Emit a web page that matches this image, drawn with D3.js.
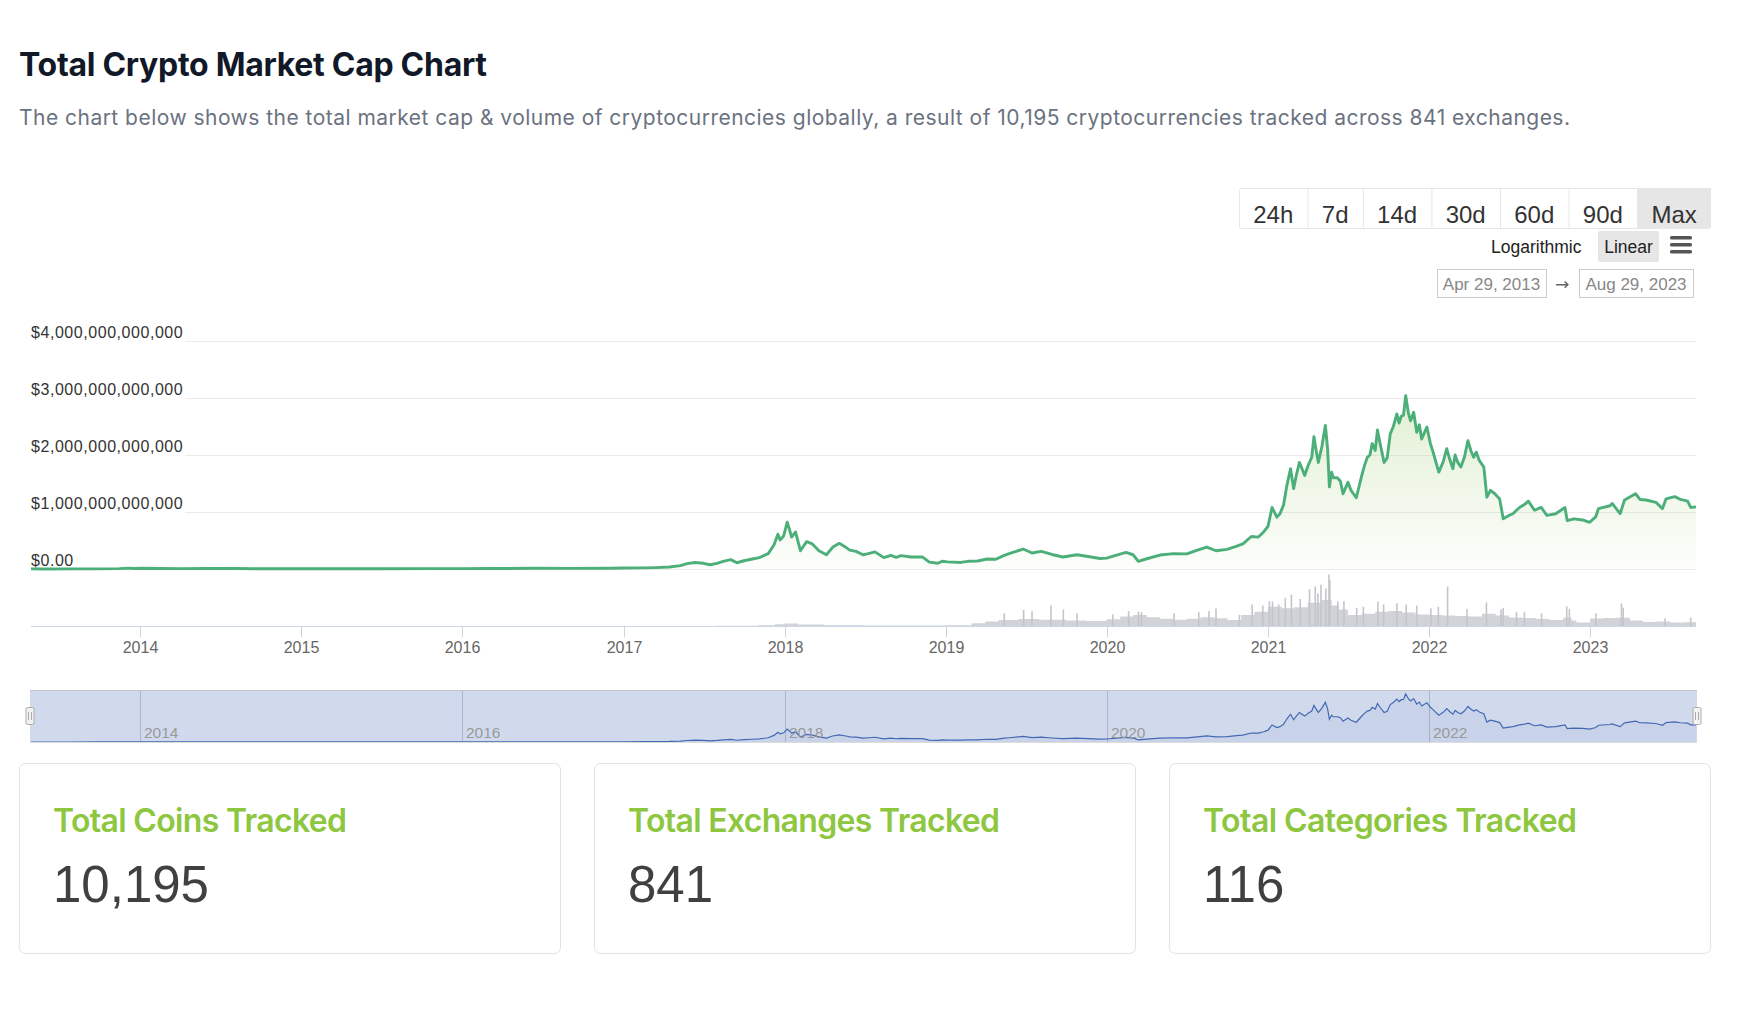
<!DOCTYPE html>
<html><head><meta charset="utf-8">
<script src="https://cdn.jsdelivr.net/npm/d3@7"></script>
<style>
html,body{margin:0;padding:0;background:#fff;}
svg{display:block;}
</style></head><body>
<svg id="c" width="1754" height="1018"></svg>
<script>
// ---------------- DATA ----------------
const pageTitle = "Total Crypto Market Cap Chart";
const pageSubtitle = "The chart below shows the total market cap & volume of cryptocurrencies globally, a result of 10,195 cryptocurrencies tracked across 841 exchanges.";
const rangeButtons = ["24h","7d","14d","30d","60d","90d","Max"];
const scaleButtons = ["Logarithmic","Linear"];
const dateRange = ["Apr 29, 2013","Aug 29, 2023"];
const yTicks = [0,1000,2000,3000,4000];            // $ billions
const xTickYears = [2014,2015,2016,2017,2018,2019,2020,2021,2022,2023];
const navTickYears = [2014,2016,2018,2020,2022];
const statTitles = ["Total Coins Tracked","Total Exchanges Tracked","Total Categories Tracked"];
const statValues = ["10,195","841","116"];

// total market cap, $ billions
const capDates = ["2013-04-29","2013-06-01","2013-08-01","2013-10-01","2013-11-15","2013-12-04","2013-12-20","2014-01-05","2014-02-15","2014-04-01","2014-06-01","2014-08-01","2014-10-01","2014-12-01","2015-01-15","2015-04-01","2015-07-01","2015-11-05","2016-01-01","2016-03-01","2016-06-15","2016-09-01","2016-12-01","2017-01-01","2017-02-15","2017-03-15","2017-04-15","2017-05-10","2017-05-25","2017-06-12","2017-07-01","2017-07-16","2017-08-01","2017-08-15","2017-09-01","2017-09-15","2017-10-01","2017-10-20","2017-11-05","2017-11-25","2017-12-08","2017-12-17","2017-12-22","2017-12-30","2018-01-07","2018-01-12","2018-01-17","2018-01-26","2018-02-06","2018-02-20","2018-03-05","2018-03-20","2018-04-06","2018-04-20","2018-05-05","2018-05-20","2018-05-29","2018-06-12","2018-06-28","2018-07-10","2018-07-25","2018-08-14","2018-08-30","2018-09-11","2018-09-22","2018-10-15","2018-11-10","2018-11-20","2018-11-25","2018-12-15","2018-12-24","2019-01-05","2019-02-05","2019-02-20","2019-03-15","2019-04-05","2019-04-25","2019-05-14","2019-05-25","2019-06-26","2019-07-16","2019-08-06","2019-08-30","2019-09-24","2019-10-26","2019-11-20","2019-12-17","2020-01-01","2020-02-14","2020-03-01","2020-03-13","2020-04-01","2020-05-01","2020-06-01","2020-07-01","2020-07-25","2020-08-15","2020-09-05","2020-09-30","2020-10-22","2020-11-05","2020-11-24","2020-12-10","2020-12-22","2021-01-01","2021-01-10","2021-01-21","2021-01-28","2021-02-05","2021-02-12","2021-02-21","2021-02-28","2021-03-06","2021-03-13","2021-03-19","2021-03-25","2021-04-02","2021-04-10","2021-04-15","2021-04-20","2021-04-25","2021-05-03","2021-05-11","2021-05-16","2021-05-20","2021-05-25","2021-05-29","2021-06-07","2021-06-14","2021-06-20","2021-07-01","2021-07-08","2021-07-20","2021-08-01","2021-08-07","2021-08-14","2021-08-20","2021-08-25","2021-09-01","2021-09-06","2021-09-12","2021-09-21","2021-09-28","2021-10-05","2021-10-12","2021-10-20","2021-10-25","2021-10-30","2021-11-04","2021-11-09","2021-11-15","2021-11-20","2021-11-27","2021-12-04","2021-12-10","2021-12-15","2021-12-27","2022-01-04","2022-01-10","2022-01-23","2022-02-02","2022-02-10","2022-02-17","2022-02-24","2022-03-01","2022-03-07","2022-03-14","2022-03-22","2022-03-30","2022-04-06","2022-04-12","2022-04-18","2022-04-25","2022-05-05","2022-05-12","2022-05-20","2022-05-30","2022-06-10","2022-06-18","2022-07-01","2022-07-10","2022-07-25","2022-08-05","2022-08-14","2022-08-28","2022-09-12","2022-09-25","2022-10-15","2022-11-05","2022-11-10","2022-11-25","2022-12-15","2022-12-31","2023-01-14","2023-01-20","2023-02-15","2023-02-20","2023-03-10","2023-03-20","2023-04-14","2023-04-24","2023-05-08","2023-05-30","2023-06-14","2023-06-22","2023-07-12","2023-07-25","2023-08-10","2023-08-17","2023-08-29"];
const capValues = [1.6,1.3,1.4,2.0,6,15,9,12,9,7,9,7.5,5,5,3.5,3.8,4.5,6,7,8,12,11,13,17,20,25,35,60,95,115,100,75,100,135,165,110,145,175,200,270,420,610,510,580,820,700,560,650,320,480,440,320,250,380,450,380,330,310,250,270,300,200,240,205,235,210,210,150,120,100,135,125,115,135,140,175,170,240,270,350,280,310,255,210,250,220,185,190,290,250,135,180,245,270,265,330,385,320,345,400,440,570,560,650,750,1080,910,970,1120,1440,1760,1410,1640,1870,1760,1640,1820,1960,2320,2080,1870,2150,2520,2100,1440,1700,1600,1600,1540,1320,1520,1380,1250,1630,1800,1960,2000,2200,2080,2440,2200,1870,1950,2370,2500,2720,2560,2680,2700,3040,2740,2600,2750,2400,2530,2280,2490,2200,2050,1700,1880,2110,1920,1760,2000,1870,1790,1960,2250,2070,1960,2050,1900,1790,1260,1380,1320,1230,880,940,970,1080,1130,1190,1030,1080,940,970,1080,850,880,860,820,920,1060,1110,1150,970,1210,1320,1220,1210,1170,1060,1230,1270,1220,1190,1080,1090];

// 24h volume level, $ billions (each value holds until the next date)
const volDates = ["2013-04-29","2014-01-01","2015-01-01","2016-01-01","2017-01-01","2017-05-01","2017-08-01","2017-11-01","2017-12-10","2018-01-01","2018-02-01","2018-04-01","2018-07-01","2018-10-01","2019-01-01","2019-03-01","2019-04-01","2019-05-01","2019-06-15","2019-08-01","2019-10-01","2019-11-15","2020-01-01","2020-02-01","2020-03-01","2020-04-01","2020-05-01","2020-06-01","2020-07-01","2020-08-01","2020-09-01","2020-10-01","2020-11-01","2020-12-01","2021-01-01","2021-02-01","2021-03-01","2021-04-01","2021-05-01","2021-05-25","2021-06-10","2021-07-01","2021-08-01","2021-09-01","2021-10-01","2021-11-01","2021-12-01","2022-01-01","2022-02-01","2022-03-01","2022-04-01","2022-05-01","2022-06-01","2022-07-01","2022-08-01","2022-09-01","2022-10-01","2022-11-01","2022-11-20","2022-12-01","2023-01-01","2023-02-01","2023-03-01","2023-04-01","2023-05-01","2023-06-01","2023-07-01","2023-08-01"];
const volValues = [0.5,0.5,0.3,0.5,1,3,6,12,20,27,18,12,10,8,12,30,45,60,68,62,55,50,65,90,105,85,70,62,70,85,75,58,105,135,180,165,175,215,240,190,155,105,115,135,140,128,110,105,100,95,92,115,100,82,78,68,58,80,55,36,72,78,80,55,42,45,36,38];
// single-day volume spikes, $ billions
const spikeDates = ["2019-05-14","2019-06-27","2019-07-16","2019-08-28","2019-09-25","2019-10-26","2020-01-15","2020-02-20","2020-03-13","2020-03-20","2020-06-02","2020-07-28","2020-08-20","2020-09-05","2020-10-28","2020-11-26","2020-12-20","2021-01-04","2021-01-11","2021-01-25","2021-02-09","2021-02-23","2021-03-15","2021-04-05","2021-04-18","2021-04-24","2021-05-01","2021-05-12","2021-05-19","2021-05-21","2021-06-08","2021-06-22","2021-07-21","2021-08-05","2021-09-07","2021-09-20","2021-10-20","2021-11-10","2021-12-04","2022-01-05","2022-01-22","2022-02-12","2022-03-28","2022-05-11","2022-06-13","2022-06-18","2022-07-18","2022-08-05","2022-09-13","2022-11-09","2022-11-15","2023-01-14","2023-03-13","2023-03-17","2023-06-20","2023-08-17"];
const spikeValues = [120,150,140,190,155,120,110,140,136,130,120,130,140,164,105,200,190,230,227,200,260,290,250,340,364,300,380,345,473,420,230,230,170,180,227,200,210,200,190,165,180,364,160,218,155,170,130,130,120,182,160,120,209,170,75,80];

// ---------------- DRAW ----------------
const svg = d3.select("#c");
const parse = d3.timeParse("%Y-%m-%d");
const cap = capDates.map((d,i)=>({date:parse(d), v:capValues[i]}));
const vol = volDates.map((d,i)=>({date:parse(d), v:volValues[i]}));
const spikes = spikeDates.map((d,i)=>({date:parse(d), v:spikeValues[i]}));
const startDate = parse("2013-04-29"), endDate = parse("2023-08-29");

const x = d3.scaleTime().domain([startDate,endDate]).range([31,1696]);
const y = d3.scaleLinear().domain([0,4000]).range([569,341]);
const yv = d3.scaleLinear().domain([0,500]).range([626.5,571.5]);
const yn = d3.scaleLinear().domain([0,d3.max(capValues)]).range([742,694]);

const sans = "'Liberation Sans', Arial, Helvetica, sans-serif";
const inter = "Inter, 'Noto Sans', sans-serif";

// Title & subtitle
svg.append("text").attr("x",19).attr("y",76).attr("font-family",inter).attr("font-weight",700)
  .attr("font-size",32).attr("fill","#111827").attr("textLength",468).attr("lengthAdjust","spacing").text(pageTitle);
svg.append("text").attr("x",19).attr("y",125).attr("font-family",inter).attr("font-weight",400)
  .attr("font-size",21).attr("fill","#6b7280").attr("textLength",1551).attr("lengthAdjust","spacing").text(pageSubtitle);

// Range buttons
const bg = svg.append("g");
const bx0 = 1239, bx1 = 1711, by0 = 188, by1 = 228;
const tmp = bg.selectAll("text.tmp").data(rangeButtons).enter().append("text")
  .attr("font-family",sans).attr("font-size",24).text(d=>d);
const tw = []; tmp.each(function(){ tw.push(this.getComputedTextLength()); });
tmp.remove();
const pad = ((bx1-bx0) - d3.sum(tw))/rangeButtons.length;
let cx = bx0;
const bpos = tw.map(w=>{ const p={x:cx,w:w+pad}; cx+=w+pad; return p; });
bg.append("rect").attr("x",bpos[6].x).attr("y",by0).attr("width",bpos[6].w).attr("height",by1-by0).attr("fill","#e6e6e6");
bg.append("rect").attr("x",bx0+0.5).attr("y",by0+0.5).attr("width",bx1-bx0-1).attr("height",by1-by0)
  .attr("fill","none").attr("stroke","#e6e6e6").attr("rx",2);
bpos.slice(1).forEach(p=>bg.append("line").attr("x1",p.x+0.5).attr("x2",p.x+0.5).attr("y1",by0).attr("y2",by1).attr("stroke","#e6e6e6"));
bg.selectAll("text.b").data(rangeButtons).enter().append("text")
  .attr("x",(d,i)=>bpos[i].x+bpos[i].w/2).attr("y",223).attr("text-anchor","middle")
  .attr("font-family",sans).attr("font-size",24).attr("fill","#333").text(d=>d);

// Log / Linear toggle and menu icon
svg.append("rect").attr("x",1598).attr("y",231).attr("width",61).attr("height",31).attr("fill","#e6e6e6").attr("rx",2);
svg.append("text").attr("x",1491).attr("y",253).attr("font-family",sans).attr("font-size",17.5).attr("fill","#222").text(scaleButtons[0]);
svg.append("text").attr("x",1628.5).attr("y",253).attr("text-anchor","middle").attr("font-family",sans).attr("font-size",17.5).attr("fill","#222").text(scaleButtons[1]);
[236,243,250].forEach(yy=>svg.append("rect").attr("x",1670).attr("y",yy).attr("width",22).attr("height",3.6).attr("rx",1.5).attr("fill","#555"));

// Date range inputs
[[1437,1546],[1579,1693]].forEach((b,i)=>{
  svg.append("rect").attr("x",b[0]+0.5).attr("y",269.5).attr("width",b[1]-b[0]).attr("height",28).attr("fill","#fff").attr("stroke","#ccc");
  svg.append("text").attr("x",(b[0]+b[1])/2).attr("y",290).attr("text-anchor","middle").attr("font-family",sans).attr("font-size",17).attr("fill","#888").text(dateRange[i]);
});
svg.append("text").attr("x",1562).attr("y",290).attr("text-anchor","middle").attr("font-family","'DejaVu Sans', sans-serif").attr("font-size",17).attr("fill","#666").text("→");

// Y gridlines and labels
const yg = svg.append("g");
const yFmt = d3.format(",.0f");
yTicks.forEach(t=>{
  const lab = t===0 ? "$0.00" : "$"+yFmt(t*1e9);
  const tx = yg.append("text").attr("x",31).attr("y",y(t)-3).attr("font-family",sans).attr("font-size",16)
     .attr("letter-spacing",0.55).attr("fill","#333").text(lab);
  const w = tx.node().getComputedTextLength();
  yg.insert("line","text").attr("x1",31+w+2).attr("x2",1696).attr("y1",y(t)+0.5).attr("y2",y(t)+0.5).attr("stroke","#ebebeb");
});

// Volume
const vg = svg.append("g");
vg.append("path").datum(vol.concat([{date:endDate, v:volValues[volValues.length-1]}]))
  .attr("fill","#d2d3d8")
  .attr("d",d3.area().curve(d3.curveStepAfter).x(d=>x(d.date)).y0(yv(0)).y1(d=>yv(d.v)));
vg.selectAll("rect.s").data(spikes).enter().append("rect")
  .attr("x",d=>x(d.date)-0.8).attr("width",1.6)
  .attr("y",d=>yv(d.v)).attr("height",d=>yv(0)-yv(d.v)).attr("fill","#c4c5cb");

// Main area & line
const defs = svg.append("defs");
const gr = defs.append("linearGradient").attr("id","ga").attr("gradientUnits","userSpaceOnUse")
  .attr("x1",0).attr("x2",0).attr("y1",y(3100)).attr("y2",y(0));
gr.append("stop").attr("offset",0).attr("stop-color","#8cc152").attr("stop-opacity",0.26);
gr.append("stop").attr("offset",1).attr("stop-color","#8cc152").attr("stop-opacity",0.02);
svg.append("path").datum(cap).attr("fill","url(#ga)")
  .attr("d",d3.area().x(d=>x(d.date)).y0(y(0)).y1(d=>y(d.v)));
svg.append("path").datum(cap).attr("fill","none").attr("stroke","#4caf7a").attr("stroke-width",2.9)
  .attr("stroke-linejoin","round").attr("d",d3.line().x(d=>x(d.date)).y(d=>y(d.v)));

// X axis
const xa = svg.append("g");
xa.append("line").attr("x1",31).attr("x2",1696).attr("y1",626.5).attr("y2",626.5).attr("stroke","#ccd6eb");
xTickYears.forEach(yr=>{
  const px = Math.round(x(new Date(yr,0,1)))+0.5;
  xa.append("line").attr("x1",px).attr("x2",px).attr("y1",626.5).attr("y2",637).attr("stroke","#ccd6eb");
  xa.append("text").attr("x",px).attr("y",652.5).attr("text-anchor","middle").attr("font-family",sans)
    .attr("font-size",16).attr("fill","#666").text(yr);
});

// Navigator
const ng = svg.append("g");
const nx0 = 30, nx1 = 1697, ny0 = 690, ny1 = 743;
navTickYears.forEach(yr=>{
  const px = Math.round(x(new Date(yr,0,1)))+0.5;
  ng.append("line").attr("x1",px).attr("x2",px).attr("y1",ny0).attr("y2",ny1).attr("stroke","#c9cbd3");
});
ng.append("path").datum(cap).attr("fill","rgba(51,92,173,0.06)")
  .attr("d",d3.area().x(d=>x(d.date)).y0(ny1).y1(d=>yn(d.v)));
ng.append("path").datum(cap).attr("fill","none").attr("stroke","#335cad").attr("stroke-width",1.2)
  .attr("d",d3.line().x(d=>x(d.date)).y(d=>yn(d.v)));
ng.append("rect").attr("x",nx0).attr("y",ny0).attr("width",nx1-nx0).attr("height",ny1-ny0).attr("fill","rgba(102,133,194,0.3)");
ng.append("line").attr("x1",nx0).attr("x2",nx1).attr("y1",ny0+0.5).attr("y2",ny0+0.5).attr("stroke","#c4c4c4");
ng.append("line").attr("x1",nx0).attr("x2",nx1).attr("y1",ny1-0.5).attr("y2",ny1-0.5).attr("stroke","#dcdcdc");
navTickYears.forEach(yr=>{
  const px = Math.round(x(new Date(yr,0,1)));
  ng.append("text").attr("x",px+4).attr("y",738).attr("font-family",sans).attr("font-size",15.5)
    .attr("fill","#999").text(yr);
});
[nx0, nx1].forEach(hx=>{
  ng.append("rect").attr("x",hx-4).attr("y",707.5).attr("width",8).attr("height",17).attr("rx",1.5)
    .attr("fill","#f2f2f2").attr("stroke","#aaa");
  [-1.5,1.5].forEach(o=>ng.append("line").attr("x1",hx+o).attr("x2",hx+o).attr("y1",712).attr("y2",720).attr("stroke","#aaa"));
});

// Stat cards
const cards = [19,594,1169];
const titleLens = [294,372,374];
cards.forEach((cx0,i)=>{
  svg.append("rect").attr("x",cx0+0.5).attr("y",763.5).attr("width",541).attr("height",190).attr("rx",6)
    .attr("fill","#fff").attr("stroke","#e2e2e2");
  svg.append("text").attr("x",cx0+34).attr("y",831.5).attr("font-family",inter).attr("font-weight",600)
    .attr("font-size",32).attr("fill","#8dc63f").attr("textLength",titleLens[i]).attr("lengthAdjust","spacing").text(statTitles[i]);
  svg.append("text").attr("x",cx0+34).attr("y",901.5).attr("font-family",sans)
    .attr("font-size",51).attr("fill","#404040").text(statValues[i]);
});
</script>
</body></html>
